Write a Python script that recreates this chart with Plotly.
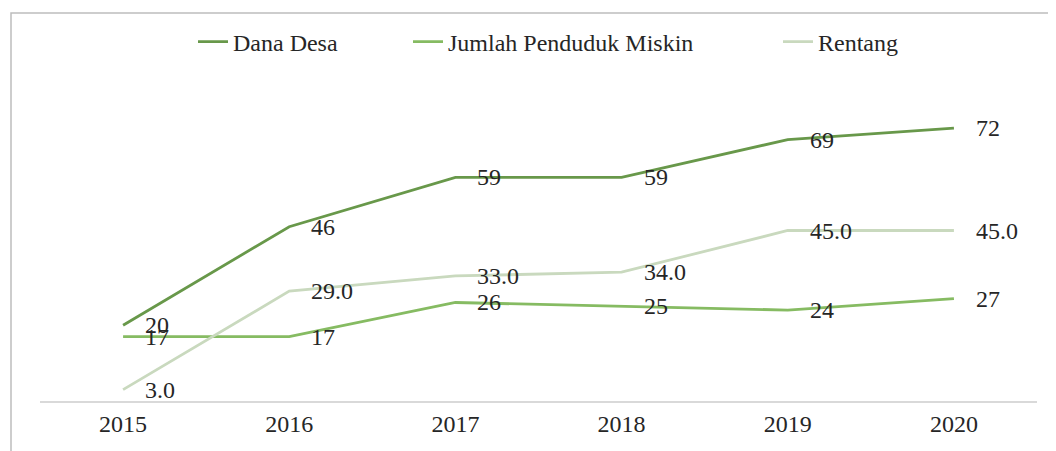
import plotly.graph_objects as go

years = ["2015", "2016", "2017", "2018", "2019", "2020"]
dana_desa = [20, 46, 59, 59, 69, 72]
penduduk_miskin = [17, 17, 26, 25, 24, 27]
rentang = [3.0, 29.0, 33.0, 34.0, 45.0, 45.0]

names = ["Dana Desa", "Jumlah Penduduk Miskin", "Rentang"]
colors = ["#68984a", "#86bb62", "#c9d9be"]
label_fmt = ["{:.0f}", "{:.0f}", "{:.1f}"]
series = [dana_desa, penduduk_miskin, rentang]

FONT = "Liberation Serif, Times New Roman, serif"
OFF = 8  # default page body margin
W, H = 1056 - OFF, 451 - OFF
# plot area in page pixels: x 40..1037, y 60..401
ML, MR, MT, MB = 40 - OFF, 1056 - 1037, 60 - OFF, 451 - 401
PW, PH = W - ML - MR, H - MT - MB

def px_x(p):
    return (p - OFF - ML) / PW

def px_y(p):
    return (H - MB - (p - OFF)) / PH

fig = go.Figure()
legend_ids = ["legend", "legend2", "legend3"]
for vals, name, col, lid in zip(series, names, colors, legend_ids):
    fig.add_trace(go.Scatter(
        x=years, y=vals, name=name, mode="lines",
        line=dict(color=col, width=2.8),
        legend=lid, hoverinfo="skip",
    ))

annotations = []
for vals, fmt in zip(series, label_fmt):
    for i, v in enumerate(vals):
        annotations.append(dict(
            x=i, y=v, xref="x", yref="y", text=fmt.format(v),
            showarrow=False, xanchor="left", yanchor="middle", xshift=20,
            font=dict(family=FONT, size=24, color="#262626"),
        ))

legend_text_starts = [233, 448, 818]
legend_common = dict(
    orientation="h", yanchor="middle", xanchor="left",
    font=dict(family=FONT, size=24, color="#262626"),
    bgcolor="rgba(0,0,0,0)", itemwidth=30,
)
layout_legends = {}
for lid, ts in zip(legend_ids, legend_text_starts):
    layout_legends[lid] = dict(legend_common, x=px_x(ts - 40), y=px_y(42))

fig.update_layout(
    width=W, height=H,
    margin=dict(l=ML, r=MR, t=MT, b=MB, pad=0),
    paper_bgcolor="white", plot_bgcolor="white",
    showlegend=True,
    xaxis=dict(
        type="category", range=[-0.5, 5.5], showgrid=False, zeroline=False,
        showline=True, linecolor="#d9d9d9", linewidth=2, ticks="",
        tickfont=dict(family=FONT, size=24, color="#262626"),
        fixedrange=True,
    ),
    yaxis=dict(range=[0, 90], visible=False, fixedrange=True),
    annotations=annotations,
    shapes=[dict(
        type="rect", xref="paper", yref="paper",
        x0=px_x(11), x1=px_x(1070), y0=px_y(470), y1=px_y(13),
        line=dict(color="#bdbdbd", width=1.5), fillcolor="rgba(0,0,0,0)",
        layer="below",
    )],
    **layout_legends,
)

fig.write_html("out.html")
